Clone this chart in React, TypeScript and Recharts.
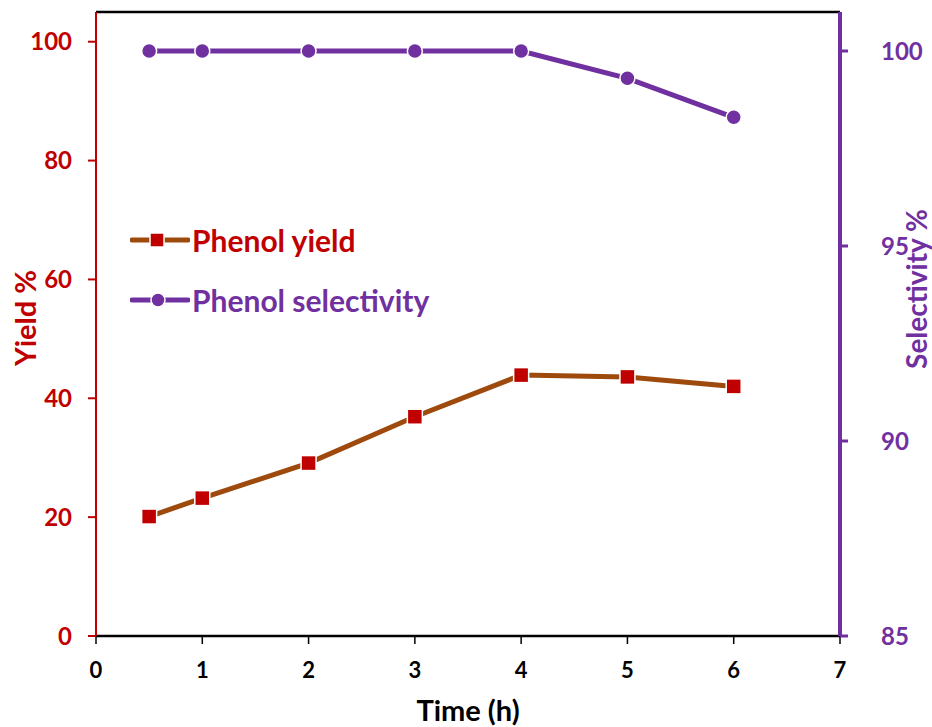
import React from 'react';
import {
  ComposedChart,
  Line,
  XAxis,
  YAxis,
  ReferenceLine
} from 'recharts';

const times = [0.5, 1, 2, 3, 4, 5, 6];
const phenolYield = [20.1, 23.2, 29.1, 36.9, 43.9, 43.6, 42.0];
const phenolSelectivity = [100, 100, 100, 100, 100, 99.3, 98.3];
const xTicks = [0, 1, 2, 3, 4, 5, 6, 7];
const yieldTicks = [0, 20, 40, 60, 80, 100];
const selectivityTicks = [85, 90, 95, 100];

const RED = '#C00000';
const BROWN = '#9E4A0C';
const PURPLE = '#7030A0';
const FONT = 'Lato, "Open Sans", sans-serif';

const data = times.map((t, i) => ({
  time: t,
  yield: phenolYield[i],
  selectivity: phenolSelectivity[i]
}));

const SquareDot = (props: any) => {
  const { cx, cy, index } = props;
  if (cx == null || cy == null) return <g key={`sq-${index}`} />;
  return (
    <rect
      key={`sq-${index}`}
      x={cx - 7.5}
      y={cy - 7.5}
      width={15}
      height={15}
      fill={RED}
      stroke="#fff"
      strokeWidth={1.5}
    />
  );
};

// axis titles drawn by hand so they sit where the original puts them
const axisTitle = (
  text: string,
  color: string,
  size: number,
  pos: (vb: any) => { x: number; y: number; rot: boolean }
) =>
  (props: any) => {
    const { x, y, rot } = pos(props.viewBox);
    return (
      <text
        x={x}
        y={y}
        fill={color}
        fontSize={size}
        fontWeight={700}
        fontFamily={FONT}
        textAnchor="middle"
        dominantBaseline="central"
        transform={rot ? `rotate(-90 ${x} ${y})` : undefined}
      >
        {text}
      </text>
    );
  };

const LegendOverlay = () => (
  <div
    style={{
      position: 'absolute',
      left: 130,
      top: 222,
      fontFamily: FONT,
      fontWeight: 700,
      fontSize: 30
    }}
  >
    <div style={{ display: 'flex', alignItems: 'center', height: 36, color: RED }}>
      <svg width={60} height={20} style={{ marginRight: 2 }}>
        <line x1={2} y1={10} x2={58} y2={10} stroke={BROWN} strokeWidth={5} strokeLinecap="round" />
        <rect x={20} y={3} width={14} height={14} fill={RED} stroke="#fff" strokeWidth={1.5} />
      </svg>
      Phenol yield
    </div>
    <div style={{ display: 'flex', alignItems: 'center', height: 36, marginTop: 24, color: PURPLE }}>
      <svg width={60} height={20} style={{ marginRight: 2 }}>
        <line x1={2} y1={10} x2={58} y2={10} stroke={PURPLE} strokeWidth={5} strokeLinecap="round" />
        <circle cx={28} cy={10} r={7} fill={PURPLE} stroke="#fff" strokeWidth={1.5} />
      </svg>
      Phenol selectivity
    </div>
  </div>
);

export default function App() {
  return (
    <div style={{ position: 'absolute', left: 0, top: 0, width: 932, height: 727, background: '#fff' }}>
      <ComposedChart
        width={932}
        height={727}
        data={data}
        margin={{ top: 12, right: 0, bottom: 0, left: 0 }}
      >
        <XAxis
          dataKey="time"
          type="number"
          domain={[0, 7]}
          ticks={xTicks}
          tickSize={8}
          tickMargin={18}
          height={91}
          axisLine={{ stroke: '#000', strokeWidth: 2.5 }}
          tickLine={{ stroke: '#000', strokeWidth: 1.5 }}
          tick={{ fill: '#000', fontSize: 22, fontWeight: 700, fontFamily: FONT }}
          label={{
            content: axisTitle('Time (h)', '#000', 29, (vb) => ({ x: vb.x + vb.width / 2, y: 709, rot: false }))
          }}
        />
        <YAxis
          yAxisId="left"
          domain={[0, 105]}
          ticks={yieldTicks}
          width={96}
          tickSize={8}
          tickMargin={16}
          axisLine={{ stroke: RED, strokeWidth: 2 }}
          tickLine={{ stroke: RED, strokeWidth: 2 }}
          tick={{ fill: RED, fontSize: 24, fontWeight: 700, fontFamily: FONT }}
          label={{
            content: axisTitle('Yield %', RED, 29, () => ({ x: 24, y: 318, rot: true }))
          }}
        />
        <YAxis
          yAxisId="right"
          orientation="right"
          domain={[85, 101]}
          ticks={selectivityTicks}
          width={92}
          tickSize={8}
          tickMargin={18}
          axisLine={{ stroke: PURPLE, strokeWidth: 4 }}
          tickLine={{ stroke: PURPLE, strokeWidth: 3 }}
          tick={{ fill: PURPLE, fontSize: 24, fontWeight: 700, fontFamily: FONT, dx: 15 }}
          label={{
            content: axisTitle('Selectivity %', PURPLE, 28, () => ({ x: 916, y: 289, rot: true }))
          }}
        />
        <ReferenceLine yAxisId="left" y={105} stroke="#000" strokeWidth={2.5} />
        <Line
          yAxisId="left"
          dataKey="yield"
          stroke={BROWN}
          strokeWidth={5}
          dot={SquareDot}
          activeDot={false}
          isAnimationActive={false}
        />
        <Line
          yAxisId="right"
          dataKey="selectivity"
          stroke={PURPLE}
          strokeWidth={5}
          dot={{ r: 7.5, fill: PURPLE, stroke: '#fff', strokeWidth: 1.5 }}
          activeDot={false}
          isAnimationActive={false}
        />
      </ComposedChart>
      <LegendOverlay />
    </div>
  );
}
